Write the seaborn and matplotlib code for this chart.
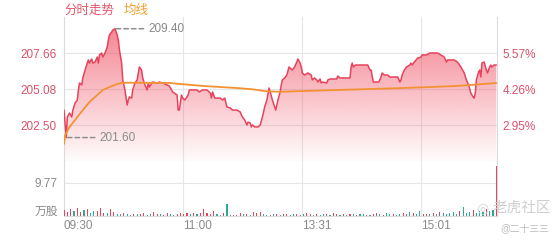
import numpy as np
import pandas as pd
import matplotlib
matplotlib.use("Agg")
import matplotlib.pyplot as plt
import seaborn as sns
from matplotlib.colors import to_rgb

# ---------------- data ----------------
price_minutes = [0, 2, 3, 5, 7, 8, 10, 12, 13, 14,
                 16, 17, 19, 21, 22, 23, 25, 26, 28, 30,
                 31, 32, 34, 35, 37, 39, 40, 41, 43, 44,
                 46, 48, 49, 50, 52, 53, 55, 57, 58, 59,
                 61, 62, 64, 66, 67, 68, 70, 71, 73, 75,
                 76, 77, 80, 84, 86, 89, 93, 95, 98, 102,
                 103, 104, 106, 107, 109, 112, 113, 116, 120, 122,
                 125, 129, 132, 133, 134, 136, 141, 143, 145, 147,
                 150, 152, 156, 159, 160, 161, 163, 165, 166, 168,
                 169, 170, 172, 175, 177, 179, 181, 183, 185, 186,
                 188, 191, 193, 195, 196, 197, 199, 201, 203, 204,
                 206, 208, 210, 211, 213, 214, 215, 217, 220, 223,
                 224, 226, 228, 229, 231, 232, 233, 237, 238, 240,
                 242, 246, 247, 249, 251, 255, 258, 259, 260, 261,
                 263, 265, 268, 271, 274, 276, 277, 279, 282, 284,
                 286, 287, 289, 292, 294, 296, 300, 301, 303, 304,
                 305, 307, 309, 312, 313, 314, 316, 319, 322, 323,
                 327, 330, 334, 337, 340, 343, 345, 346, 349, 352,
                 355, 358, 361, 363, 365, 367, 369, 370, 371, 372,
                 374, 375, 376, 377, 379, 381, 382, 384, 385, 386,
                 388, 390]
price_values = [203.57, 201.60, 203.07, 203.36, 203.07, 203.57, 204.08, 204.29, 205.01, 205.51,
                205.37, 205.87, 206.44, 206.94, 207.16, 206.94, 207.23, 206.94, 207.01, 207.37,
                206.94, 207.52, 207.66, 207.37, 207.66, 208.09, 208.59, 208.95, 209.17, 209.30,
                209.40, 208.95, 208.59, 207.88, 206.94, 205.73, 205.01, 203.93, 204.29, 204.51,
                204.43, 205.01, 205.51, 205.73, 206.23, 206.66, 206.44, 205.87, 205.37, 205.01,
                205.51, 205.22, 205.58, 205.51, 205.58, 205.51, 205.37, 205.30, 204.87, 204.65,
                203.57, 203.57, 204.65, 204.43, 204.29, 204.65, 205.01, 205.01, 205.01, 204.87,
                205.01, 205.01, 204.79, 204.43, 204.87, 204.43, 204.43, 204.29, 204.43, 203.79,
                203.72, 203.57, 203.57, 203.43, 203.22, 203.07, 202.86, 202.50, 202.71, 202.64,
                202.36, 202.50, 202.36, 202.36, 202.50, 203.07, 203.79, 204.29, 205.15, 204.87,
                204.29, 203.57, 204.29, 204.87, 205.37, 205.73, 205.87, 206.08, 206.66, 206.58,
                206.44, 206.66, 207.01, 207.23, 206.94, 206.66, 206.23, 206.08, 206.23, 206.08,
                205.73, 205.87, 205.73, 205.58, 205.80, 205.51, 205.58, 205.51, 205.73, 205.80,
                205.80, 205.80, 206.01, 205.87, 205.87, 205.87, 205.87, 206.66, 206.94, 206.66,
                206.80, 206.80, 206.80, 206.80, 206.80, 206.44, 206.44, 205.58, 205.58, 205.58,
                205.94, 206.23, 206.08, 206.08, 205.94, 205.94, 205.94, 205.94, 205.58, 205.73,
                206.08, 206.44, 206.66, 206.80, 206.94, 206.80, 207.01, 207.30, 207.37, 207.52,
                207.52, 207.66, 207.66, 207.66, 207.52, 207.37, 207.01, 207.16, 207.16, 207.16,
                207.01, 206.66, 206.23, 205.73, 205.37, 204.79, 204.51, 204.43, 204.79, 205.73,
                206.30, 206.44, 205.94, 206.94, 207.01, 206.44, 206.23, 206.66, 206.80, 206.66,
                206.80, 206.80]

avg_minutes = [0, 1, 5, 12, 17, 23, 30, 35, 41, 48, 52, 57, 95, 125, 156, 170,
               182, 195, 230, 260, 298, 330, 355, 390]
avg_values = [201.14, 201.78, 202.36, 203.07, 203.57, 204.15, 204.65, 205.01, 205.22,
              205.44, 205.51, 205.53, 205.51, 205.30, 205.15, 205.06, 204.92, 204.88,
              204.97, 205.04, 205.13, 205.22, 205.30, 205.51]

# volume (万股), one bar per 3 minutes; r = up, g = down
vol_values = [1.8, 1.2, 2.0, 1.5, 2.4, 1.3, 1.9, 2.2, 1.0, 1.6, 1.4,
              2.3, 1.0, 0.8, 2.1, 1.2, 0.7,
              0.6, 0.9, 0.5, 0.4, 0.7, 0.5, 0.6, 0.8, 0.4, 0.5, 1.1, 0.7, 0.5, 0.4, 0.9, 0.6, 0.3, 0.5, 0.8,
              0.7, 0.9, 0.5, 1.0, 0.6, 0.8, 2.0, 0.9,
              0.5, 1.4, 0.6, 0.3, 0.8, 3.7, 0.4,
              0.3, 0.4, 0.9, 0.6, 0.5, 0.3, 1.3, 0.8, 1.1, 0.6, 0.4, 0.3, 0.5, 0.6, 0.4, 0.7, 0.5, 0.3, 0.6, 0.5,
              0.4, 0.6, 0.9, 0.5, 0.3, 0.7, 0.4, 0.5, 0.6, 0.3, 0.8, 0.5, 0.4, 0.6, 0.3,
              0.5, 0.7, 0.4, 0.6, 0.5, 0.3, 0.4, 0.6, 0.8, 0.5, 0.4, 0.9, 0.5, 0.6, 0.4,
              0.6, 1.0, 0.5, 1.2, 0.8, 0.5, 1.4, 0.7, 0.6, 0.5, 0.9, 0.6, 1.1, 0.8, 0.5,
              0.9, 1.2, 0.7, 1.5, 2.6, 1.0, 1.3, 1.8, 0.9, 1.6, 1.2, 2.0, 1.4, 1.7]
vol_dirs = ("rrrgrrgrggr" "rrgrrg" "grggrgrrggrrgrrggrr" "rrgrgrrr" "rrggrgg"
            "rrrgrgrrrggrgrgrrggr" "rgrrgrggrgrrgrgrgrgg" "rgrrgrggrg"
            "grrgrggrrgrgrgg" "gggrgggrgggrgg")
close_volume = 14.9
prev_close = 196.70
price_ticks = [202.50, 205.08, 207.66]
price_range = [199.92, 210.24]
vol_tick = 9.77
vol_top = 16.28
time_ticks = [0, 107, 215, 322]
time_labels = ["09:30", "11:00", "13:31", "15:01"]
session_len = 390

# ---------------- style ----------------
RED = "#e8435c"
RED_TXT = "#d9506a"
GREEN = "#2aaa9a"
ORANGE = "#f39233"
GRID = "#e6e6e6"
GRAY = "#8a8a8a"

sns.set_theme(style="white")
plt.rcParams["font.family"] = ["Liberation Sans", "Noto Sans CJK SC", "DejaVu Sans"]

W, H = 560, 240
fig = plt.figure(figsize=(W / 100, H / 100), dpi=100)
L, R = 64, 497
ax = fig.add_axes([L / W, 1 - 161 / H, (R - L) / W, 144 / H])
axv = fig.add_axes([L / W, 1 - 216 / H, (R - L) / W, 55 / H], sharex=ax)

df = pd.DataFrame({"t": price_minutes, "p": price_values})
dfa = pd.DataFrame({"t": avg_minutes, "p": avg_values})

# gradient fill under price line
poly = ax.fill_between(df["t"], df["p"], price_range[0], color="none", lw=0)
n = 256
rgba = np.zeros((n, 1, 4))
rgba[..., :3] = to_rgb("#f04a5e")
rgba[:, 0, 3] = np.linspace(0.02, 0.72, n)
im = ax.imshow(rgba, extent=[0, session_len, price_range[0], price_range[1]],
               origin="lower", aspect="auto", zorder=1, interpolation="bilinear")
im.set_clip_path(poly.get_paths()[0], transform=ax.transData)

sns.lineplot(data=df, x="t", y="p", ax=ax, color=RED, lw=1.1, estimator=None,
             sort=False, zorder=3)
sns.lineplot(data=dfa, x="t", y="p", ax=ax, color=ORANGE, lw=1.3, estimator=None,
             sort=False, zorder=4)

ax.set_xlim(0, session_len + 0.6)
ax.set_ylim(*price_range)
ax.set_yticks(price_ticks)
ax.set_yticklabels([f"{v:.2f}" for v in price_ticks])
ax.set_xticks(time_ticks)
ax.tick_params(axis="x", labelbottom=False, length=0)
ax.tick_params(axis="y", length=0, pad=5, labelsize=8.5, labelcolor=RED_TXT)
ax.grid(True, color=GRID, lw=0.8)
ax.set_xlabel("")
ax.set_ylabel("")
for s in ["top", "bottom"]:
    ax.spines[s].set_visible(False)
for s in ["left", "right"]:
    ax.spines[s].set_color("#dcdcdc")
    ax.spines[s].set_linewidth(0.8)

axr = ax.twinx()
axr.set_ylim(*price_range)
axr.set_yticks(price_ticks)
axr.set_yticklabels([f"{(v / prev_close - 1) * 100:.2f}%" for v in price_ticks])
axr.tick_params(axis="y", length=0, pad=4, labelsize=8.5, labelcolor=RED_TXT)
axr.grid(False)
for s in axr.spines.values():
    s.set_visible(False)

# annotations for high / low
i_hi = int(np.argmax(price_values))
i_lo = int(np.argmin(price_values))
for i in (i_hi, i_lo):
    ax.annotate(f"{price_values[i]:.2f}", xy=(price_minutes[i], price_values[i]),
                xytext=(24, 0), textcoords="offset points", ha="left", va="center",
                fontsize=8.5, color=GRAY, zorder=6,
                arrowprops=dict(arrowstyle="-", linestyle=(0, (3, 2)), color="#8f8f8f",
                                lw=1.1, shrinkA=1, shrinkB=0, relpos=(0, 0.5)))

# volume panel
vol_t = np.arange(len(vol_values)) * 3
vol_colors = [RED if c == "r" else GREEN for c in vol_dirs[:len(vol_values)]]
axv.bar(vol_t, vol_values, width=1.0, color=vol_colors, lw=0, zorder=3)
axv.bar([session_len], [close_volume], width=1.0, color=RED, lw=0, zorder=3)
axv.set_ylim(0, vol_top)
axv.set_yticks([vol_tick])
axv.set_yticklabels([f"{vol_tick:.2f}"])
axv.tick_params(axis="y", length=0, pad=5, labelsize=8.5, labelcolor=GRAY)
axv.set_xticks(time_ticks)
axv.set_xticklabels(time_labels)
axv.tick_params(axis="x", length=0, pad=3, labelsize=8.5, labelcolor=GRAY)
for lbl in axv.get_xticklabels():
    lbl.set_ha("left")
axv.grid(True, color=GRID, lw=0.8)
axv.spines["top"].set_visible(False)
for s in ["left", "right", "bottom"]:
    axv.spines[s].set_color("#dcdcdc")
    axv.spines[s].set_linewidth(0.8)

fig.text(58 / W, 1 - 212 / H, "万股", ha="right", va="center", fontsize=8.5, color=GRAY)

# legend-like header
fig.text(64 / W, 1 - 11 / H, "分时走势", ha="left", va="center", fontsize=9, color="#e3566c")
fig.text(124 / W, 1 - 11 / H, "均线", ha="left", va="center", fontsize=9, color="#f0a030")

# watermark
fig.text(482 / W, 1 - 208 / H, "◎", ha="center", va="center", fontsize=10,
         color="#d4d4d4", family="DejaVu Sans")
fig.text(551 / W, 1 - 208 / H, "老虎社区", ha="right", va="center", fontsize=10.5,
         color="#cfcfcf")
fig.text(549 / W, 1 - 228 / H, "@二十三三", ha="right", va="center", fontsize=7,
         color="#bdbdbd")

fig.savefig("out.png", dpi=100)
